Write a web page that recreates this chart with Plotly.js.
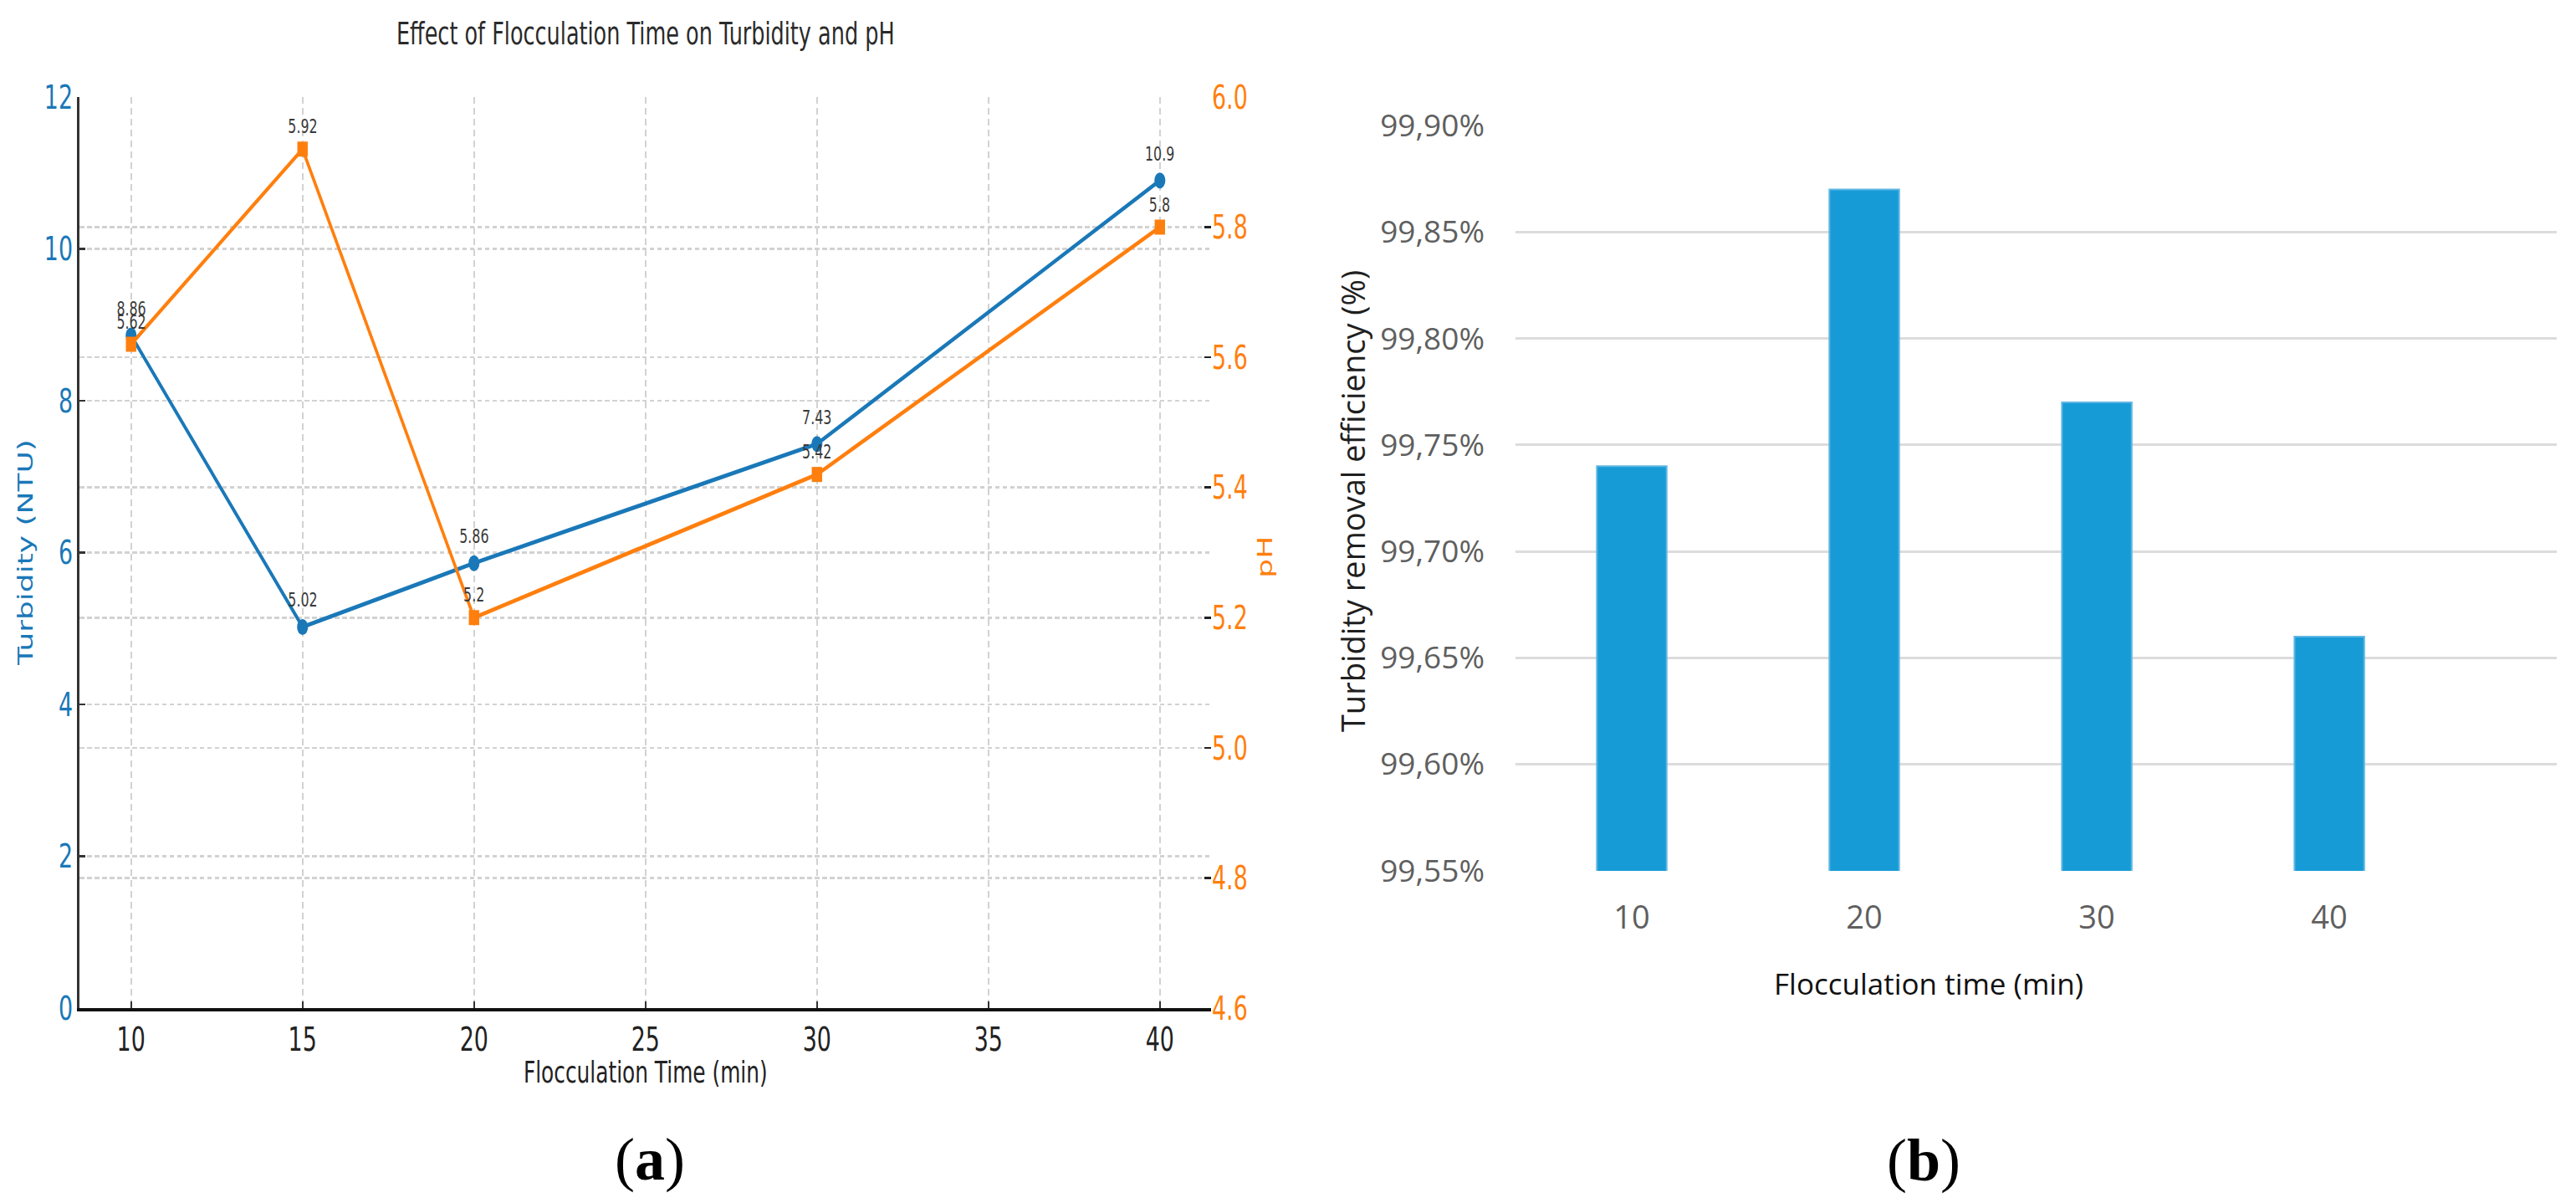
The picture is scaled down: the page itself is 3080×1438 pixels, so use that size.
<!DOCTYPE html>
<html>
<head>
<meta charset="utf-8">
<script src="https://cdn.plot.ly/plotly-3.0.1.min.js"></script>
<style>
  html, body { margin: 0; padding: 0; background: #ffffff; }
  #wrap { position: relative; width: 3080px; height: 1438px; overflow: hidden; background: #fff; }
  #chartA { position: absolute; left: 0; top: 0; width: 2232px; height: 1438px;
            transform: scaleX(0.69); transform-origin: 0 0; }
  #chartB { position: absolute; left: 0; top: 0; width: 3080px; height: 1438px; }
</style>
</head>
<body>
<div id="wrap">
  <div id="chartA"></div>
  <div id="chartB"></div>
</div>
<script>
// ---- Data: panel (a) ----
const flocTime = [10, 15, 20, 30, 40];
const turbidity = [8.86, 5.02, 5.86, 7.43, 10.9];
const phValues = [5.62, 5.92, 5.2, 5.42, 5.8];

// ---- Data: panel (b) ----
const effTimes = ['10', '20', '30', '40'];
const efficiency = [99.74, 99.87, 99.77, 99.66];
const effTickVals = [99.55, 99.60, 99.65, 99.70, 99.75, 99.80, 99.85, 99.90];
const effTickText = ['99,55%', '99,60%', '99,65%', '99,70%', '99,75%', '99,80%', '99,85%', '99,90%'];

const BLUE = '#1a78b8';
const ORANGE = '#ff7f0e';
const MPL = 'DejaVu Sans, sans-serif';
const XL = 'Open Sans, Lato, sans-serif';

// ---------- Panel (a) ----------
const gridStyle = { showgrid: true, gridcolor: '#d2d2d2', gridwidth: 2.5, griddash: '8px,5px' };

const traceTurb = {
  x: flocTime, y: turbidity, type: 'scatter', mode: 'lines+markers',
  line: { color: BLUE, width: 5 },
  marker: { color: BLUE, size: 19, symbol: 'circle' },
  yaxis: 'y', hoverinfo: 'skip'
};
const tracePh = {
  x: flocTime, y: phValues, type: 'scatter', mode: 'lines+markers',
  line: { color: ORANGE, width: 5 },
  marker: { color: ORANGE, size: 18, symbol: 'square' },
  yaxis: 'y2', hoverinfo: 'skip'
};

const annA = [];
flocTime.forEach((t, i) => {
  annA.push({ x: t, y: turbidity[i], xref: 'x', yref: 'y', text: String(turbidity[i]),
    showarrow: false, yanchor: 'bottom', yshift: 17, font: { family: MPL, size: 23, color: '#3a3a3a' } });
});
flocTime.forEach((t, i) => {
  annA.push({ x: t, y: phValues[i], xref: 'x', yref: 'y2', text: String(phValues[i]),
    showarrow: false, yanchor: 'bottom', yshift: 12, font: { family: MPL, size: 23, color: '#3a3a3a' } });
});
annA.push({ text: 'Turbidity (NTU)', xref: 'paper', yref: 'paper', x: -0.0476, y: 0.5,
  xanchor: 'center', yanchor: 'middle', textangle: -90, showarrow: false,
  font: { family: MPL, size: 36, color: BLUE } });
annA.push({ text: 'pH', xref: 'paper', yref: 'paper', x: 1.0478, y: 0.495,
  xanchor: 'center', yanchor: 'middle', textangle: -90, showarrow: false,
  font: { family: MPL, size: 36, color: ORANGE } });
annA.push({ text: 'Flocculation Time (min)', xref: 'paper', yref: 'paper', x: 0.5, y: -0.0707,
  xanchor: 'center', yanchor: 'middle', showarrow: false,
  font: { family: MPL, size: 36, color: '#222222' } });

const layoutA = {
  width: 2232, height: 1438,
  margin: { l: 138, r: 133, t: 116, b: 233, pad: 0 },
  paper_bgcolor: 'rgba(0,0,0,0)', plot_bgcolor: 'rgba(0,0,0,0)',
  showlegend: false,
  title: { text: 'Effect of Flocculation Time on Turbidity and pH', x: 0.5, xref: 'paper',
    y: 1 - 40 / 1438, yref: 'container', yanchor: 'middle', xanchor: 'center',
    font: { family: MPL, size: 37, color: '#2a2a2a' } },
  xaxis: Object.assign({
    range: [8.5, 41.5], tick0: 10, dtick: 5, zeroline: false,
    showline: true, linecolor: '#111111', linewidth: 4,
    ticks: 'inside', ticklen: 8, tickwidth: 2.5, tickcolor: '#333333',
    tickfont: { family: MPL, size: 39, color: '#222222' }
  }, gridStyle),
  yaxis: Object.assign({
    range: [0, 12], tick0: 0, dtick: 2, zeroline: false,
    showline: true, linecolor: '#333333', linewidth: 4,
    ticks: 'inside', ticklen: 10, tickwidth: 2.5, tickcolor: '#333333',
    tickfont: { family: MPL, size: 39, color: BLUE }
  }, gridStyle),
  yaxis2: Object.assign({
    overlaying: 'y', side: 'right',
    range: [4.6, 6.0], tick0: 4.6, dtick: 0.2, tickformat: '.1f', zeroline: false,
    showline: false,
    ticks: 'inside', ticklen: 12, tickwidth: 2.5, tickcolor: '#222222',
    tickfont: { family: MPL, size: 39, color: ORANGE }
  }, gridStyle),
  annotations: annA
};

Plotly.newPlot('chartA', [traceTurb, tracePh], layoutA, { staticPlot: true, displayModeBar: false });

// ---------- Panel (b) ----------
const traceEff = {
  x: effTimes, y: efficiency, type: 'bar', width: 0.3,
  marker: { color: '#179bd7', line: { color: '#5fb6e3', width: 2 } },
  hoverinfo: 'skip'
};

const annB = [
  { text: 'Turbidity removal efficiency (%)', xref: 'paper', yref: 'paper', x: -0.1566, y: 0.496,
    xanchor: 'center', yanchor: 'middle', textangle: -90, showarrow: false,
    font: { family: XL, size: 38, color: '#1f1f1f' } },
  { text: 'Flocculation time (min)', xref: 'paper', yref: 'paper', x: 0.3968, y: -0.1504,
    xanchor: 'center', yanchor: 'middle', showarrow: false,
    font: { family: XL, size: 35, color: '#111111' } },
  { text: '(<b>a</b>)', xref: 'paper', yref: 'paper', x: -0.8313, y: -0.3872,
    xanchor: 'center', yanchor: 'middle', showarrow: false,
    font: { family: 'Liberation Serif, Times New Roman, serif', size: 72, color: '#000000' } },
  { text: '(<b>b</b>)', xref: 'paper', yref: 'paper', x: 0.392, y: -0.3883,
    xanchor: 'center', yanchor: 'middle', showarrow: false,
    font: { family: 'Liberation Serif, Times New Roman, serif', size: 72, color: '#000000' } }
];

const layoutB = {
  width: 3080, height: 1438,
  margin: { l: 1812, r: 23, t: 150, b: 397, pad: 0 },
  paper_bgcolor: 'rgba(0,0,0,0)', plot_bgcolor: 'rgba(0,0,0,0)',
  showlegend: false,
  xaxis: {
    type: 'category', categoryorder: 'array', categoryarray: effTimes,
    range: [-0.5, 3.978], showgrid: false, zeroline: false, showline: false, ticks: '',
    ticklabelstandoff: 30,
    tickfont: { family: XL, size: 38, color: '#5f5f5f' }
  },
  yaxis: {
    range: [99.5499, 99.9001], tickvals: effTickVals, ticktext: effTickText,
    showgrid: true, gridcolor: '#dcdcdc', gridwidth: 3, zeroline: false, showline: false, ticks: '',
    ticklabelstandoff: 36,
    tickfont: { family: XL, size: 37, color: '#5f5f5f' }
  },
  annotations: annB
};

Plotly.newPlot('chartB', [traceEff], layoutB, { staticPlot: true, displayModeBar: false });
</script>
</body>
</html>
